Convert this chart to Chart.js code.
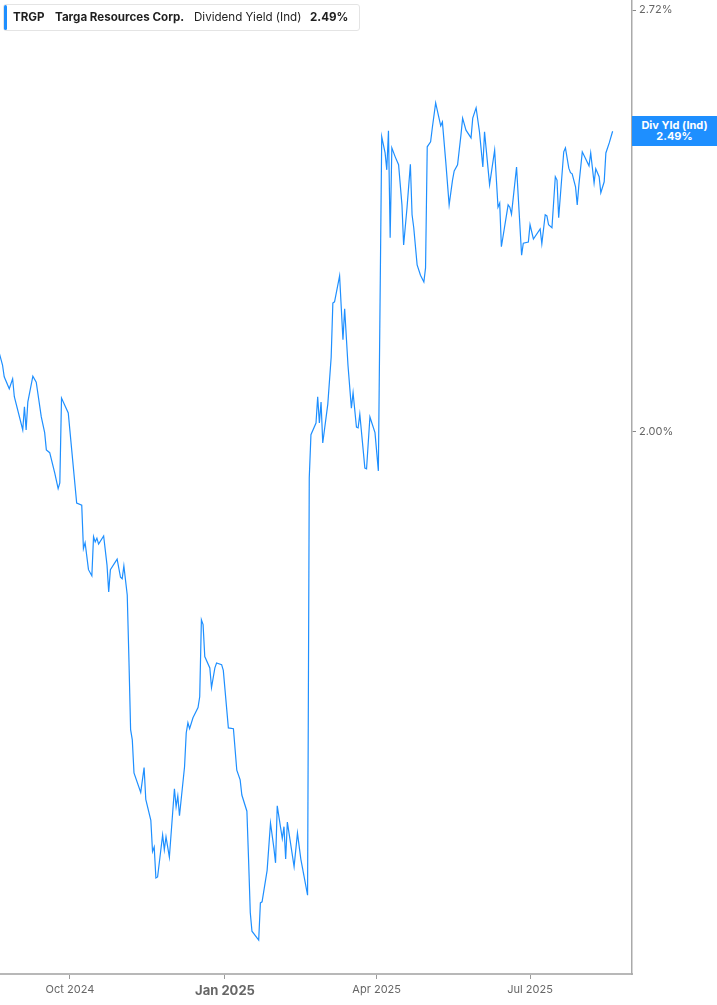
<!DOCTYPE html>
<html>
<head>
<meta charset="utf-8">
<script src="https://cdn.jsdelivr.net/npm/chart.js@4.4.1/dist/chart.umd.min.js"></script>
<style>
html,body{margin:0;padding:0;background:#fff;}
#wrap{position:relative;width:717px;height:1005px;overflow:hidden;background:#fff;}
#c{position:absolute;left:0;top:0;}
#legend{position:absolute;left:3px;top:4px;width:355px;height:25px;border:1px solid #e4e4e4;border-radius:3px;background:#fff;font-family:Inter,'Noto Sans',sans-serif;font-size:11.6px;color:#1f1f1f;}
#legend .bar{position:absolute;left:0px;top:0px;width:3px;height:25px;background:#1e8fff;border-radius:2px;}
#legend span{position:absolute;top:5px;white-space:nowrap;line-height:15px;}
#legend .b{font-weight:700;}
#tag{position:absolute;left:632px;top:118px;width:85px;height:30px;background:#1e8fff;color:#fff;font-family:Inter,'Noto Sans',sans-serif;font-weight:700;font-size:11px;text-align:center;line-height:11px;padding-top:4px;box-sizing:border-box;}
</style>
</head>
<body>
<div id="wrap">
  <canvas id="c" width="717" height="1005"></canvas>
  <div id="legend">
    <div class="bar"></div>
    <span class="b" style="left:9px">TRGP</span>
    <span class="b" style="left:51px">Targa Resources Corp.</span>
    <span style="left:190px">Dividend Yield (Ind)</span>
    <span class="b" id="legval" style="left:306px">2.49%</span>
  </div>
  <div id="tag"><div>Div Yld (Ind)</div><div id="tagval">2.49%</div></div>
</div>
<script>
// ---- data ----
const dates = [
"2024-08-20","2024-08-22","2024-08-23","2024-08-26","2024-08-28","2024-08-29","2024-09-03","2024-09-04","2024-09-05","2024-09-06",
"2024-09-09","2024-09-11","2024-09-14","2024-09-16","2024-09-17","2024-09-19","2024-09-22","2024-09-24","2024-09-25","2024-09-26",
"2024-09-30","2024-10-05","2024-10-08","2024-10-09","2024-10-10","2024-10-12","2024-10-14","2024-10-15","2024-10-16","2024-10-17",
"2024-10-18","2024-10-21","2024-10-23","2024-10-24","2024-10-25","2024-10-29","2024-10-31","2024-11-01","2024-11-02","2024-11-04",
"2024-11-05","2024-11-06","2024-11-07","2024-11-08","2024-11-12","2024-11-14","2024-11-15","2024-11-18","2024-11-19","2024-11-20",
"2024-11-21","2024-11-22","2024-11-25","2024-11-26","2024-11-27","2024-11-29","2024-12-02","2024-12-03","2024-12-04","2024-12-05",
"2024-12-08","2024-12-09","2024-12-10","2024-12-11","2024-12-13","2024-12-16","2024-12-17","2024-12-18","2024-12-19","2024-12-20",
"2024-12-23","2024-12-24","2024-12-26","2024-12-27","2024-12-30","2024-12-31","2025-01-03","2025-01-06","2025-01-08","2025-01-10",
"2025-01-11","2025-01-14","2025-01-15","2025-01-16","2025-01-17","2025-01-21","2025-01-22","2025-01-23","2025-01-26","2025-01-28",
"2025-01-30","2025-01-31","2025-02-01","2025-02-04","2025-02-05","2025-02-06","2025-02-07","2025-02-11","2025-02-13","2025-02-15",
"2025-02-19","2025-02-20","2025-02-21","2025-02-24","2025-02-25","2025-02-26","2025-02-27","2025-02-28","2025-03-03","2025-03-05",
"2025-03-06","2025-03-07","2025-03-10","2025-03-12","2025-03-13","2025-03-15","2025-03-17","2025-03-18","2025-03-20","2025-03-21",
"2025-03-22","2025-03-25","2025-03-26","2025-03-28","2025-03-31","2025-04-02","2025-04-04","2025-04-06","2025-04-07","2025-04-08",
"2025-04-09","2025-04-10","2025-04-12","2025-04-14","2025-04-16","2025-04-17","2025-04-19","2025-04-21","2025-04-22","2025-04-23",
"2025-04-25","2025-04-27","2025-04-29","2025-04-30","2025-05-01","2025-05-03","2025-05-04","2025-05-06","2025-05-09","2025-05-10",
"2025-05-12","2025-05-14","2025-05-16","2025-05-17","2025-05-19","2025-05-21","2025-05-22","2025-05-24","2025-05-27","2025-05-28",
"2025-05-30","2025-06-01","2025-06-03","2025-06-04","2025-06-07","2025-06-10","2025-06-12","2025-06-13","2025-06-14","2025-06-18",
"2025-06-19","2025-06-20","2025-06-23","2025-06-26","2025-06-27","2025-06-30","2025-07-01","2025-07-03","2025-07-07","2025-07-08",
"2025-07-10","2025-07-11","2025-07-12","2025-07-14","2025-07-16","2025-07-17","2025-07-18","2025-07-21","2025-07-22","2025-07-24",
"2025-07-25","2025-07-26","2025-07-28","2025-07-29","2025-07-30","2025-08-01","2025-08-05","2025-08-06","2025-08-08","2025-08-09",
"2025-08-11","2025-08-12","2025-08-14","2025-08-15","2025-08-17","2025-08-19"
];
const dividendYield = [
2.119,2.100,2.082,2.064,2.079,2.052,2.003,2.037,2.003,2.044,
2.083,2.074,2.022,1.999,1.974,1.970,1.941,1.919,1.927,2.050,
2.028,1.899,1.896,1.837,1.845,1.809,1.801,1.853,1.846,1.851,
1.843,1.854,1.815,1.780,1.809,1.823,1.799,1.797,1.814,1.776,
1.694,1.610,1.598,1.560,1.538,1.566,1.530,1.507,1.473,1.478,
1.445,1.446,1.491,1.475,1.489,1.467,1.542,1.522,1.534,1.512,
1.567,1.606,1.618,1.611,1.624,1.636,1.649,1.744,1.738,1.698,
1.684,1.660,1.684,1.690,1.688,1.681,1.612,1.611,1.563,1.552,
1.535,1.517,1.464,1.409,1.390,1.381,1.419,1.420,1.453,1.504,
1.477,1.461,1.523,1.487,1.500,1.465,1.505,1.457,1.493,1.465,
1.427,1.934,1.996,2.013,2.052,2.013,2.044,1.984,2.041,2.112,
2.197,2.199,2.241,2.139,2.188,2.099,2.035,2.058,2.007,2.006,
2.026,1.948,1.947,2.022,1.999,1.944,2.480,2.451,2.421,2.491,
2.304,2.460,2.444,2.430,2.360,2.292,2.355,2.431,2.343,2.321,
2.259,2.242,2.231,2.254,2.462,2.471,2.496,2.542,2.500,2.507,
2.435,2.360,2.403,2.419,2.430,2.483,2.514,2.492,2.478,2.514,
2.533,2.489,2.426,2.489,2.395,2.456,2.356,2.363,2.289,2.360,
2.356,2.344,2.426,2.275,2.295,2.297,2.326,2.302,2.319,2.294,
2.343,2.341,2.326,2.321,2.409,2.403,2.338,2.453,2.460,2.424,
2.416,2.414,2.391,2.360,2.395,2.453,2.428,2.451,2.398,2.423,
2.409,2.381,2.400,2.451,2.469,2.490
];
const xTickDates = ["2024-10-01","2025-01-01","2025-04-01","2025-07-01"];
const xTickLabels = ["Oct 2024","Jan 2025","Apr 2025","Jul 2025"];
const yTickValues = [2.00, 2.72];
const seriesLabel = "Div Yld (Ind)";

// ---- helpers ----
const ORIGIN = Date.UTC(2024, 9, 1);
function dayNum(s){ const p = s.split('-').map(Number); return (Date.UTC(p[0], p[1]-1, p[2]) - ORIGIN) / 86400000; }
const points = dates.map((d,i) => ({x: dayNum(d), y: dividendYield[i]}));
const xTicks = xTickDates.map(dayNum);
const lastVal = dividendYield[dividendYield.length-1];
document.getElementById('tagval').textContent = lastVal.toFixed(2) + '%';
document.getElementById('legval').textContent = lastVal.toFixed(2) + '%';

const FONT = "Inter, 'Noto Sans', sans-serif";

const tagPlugin = {
  id: 'tagPos',
  afterDraw(chart){
    const y = chart.scales.y.getPixelForValue(lastVal);
    const tag = document.getElementById('tag');
    tag.style.top = (y - 15) + 'px';
    tag.style.left = chart.chartArea.right + 'px';
  }
};

new Chart(document.getElementById('c'), {
  type: 'line',
  data: { datasets: [{
    label: seriesLabel,
    data: points,
    borderColor: '#1e8fff',
    borderWidth: 1.2,
    pointRadius: 0,
    tension: 0,
    fill: false
  }]},
  options: {
    responsive: false,
    animation: false,
    layout: { padding: 0 },
    plugins: { legend: {display:false}, tooltip: {enabled:false} },
    scales: {
      x: {
        type: 'linear', position: 'bottom', bounds: 'data',
        min: -41.5, max: 333.5,
        afterBuildTicks: s => { s.ticks = xTicks.map(v => ({value: v})); },
        afterFit: s => { s.height = 31; s.paddingLeft = 0; s.paddingRight = 0; },
        grid: { display: true, drawOnChartArea: false, drawTicks: true, tickLength: 5, color: '#9a9a9a', lineWidth: 1 },
        border: { display: true, color: '#b8b8b8', width: 2 },
        ticks: {
          autoSkip: false, maxRotation: 0, minRotation: 0, padding: 4,
          color: '#666',
          font: c => (c.index === 1 ? {family: FONT, size: 13, weight: 'bold'} : {family: FONT, size: 11}),
          callback: (v, i) => xTickLabels[i]
        }
      },
      y: {
        type: 'logarithmic', position: 'right', bounds: 'data',
        min: 1.3473, max: 2.740,
        afterBuildTicks: s => { s.ticks = yTickValues.map(v => ({value: v})); },
        afterFit: s => { s.width = 85; s.paddingTop = 0; s.paddingBottom = 0; },
        grid: { display: true, drawOnChartArea: false, drawTicks: true, tickLength: 4, color: '#888' },
        border: { display: true, color: '#aaaaaa', width: 1.5 },
        ticks: {
          autoSkip: false, padding: 3, color: '#666',
          font: {family: FONT, size: 11},
          callback: v => Number(v).toFixed(2) + '%'
        }
      }
    }
  },
  plugins: [tagPlugin]
});
</script>
</body>
</html>
